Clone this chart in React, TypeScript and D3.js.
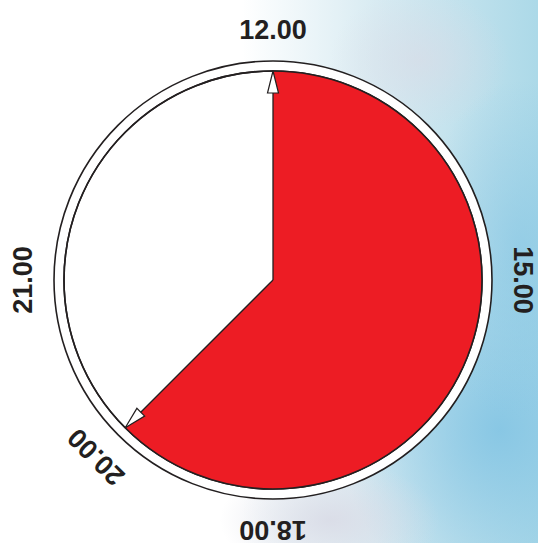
import React, { useEffect, useRef } from 'react';
import * as d3 from 'd3';

// clock positions (hours on a 12-hour dial starting at 12.00)
const sliceStart = 12;
const sliceEnd = 19.5;
const labelHours = [12, 15, 18, 19.5, 21];
const labelTexts = ['12.00', '15.00', '18.00', '20.00', '21.00'];

const App = () => {
  const svgRef = useRef<SVGSVGElement>(null);

  useEffect(() => {
    const width = 538;
    const height = 543;
    const cx = 273;
    const cy = 280;
    const outerR = 219;
    const innerR = 209;
    const labelR = 251;

    const svg = d3.select(svgRef.current);
    svg.selectAll('*').remove();
    svg.attr('width', width).attr('height', height);

    // Background wash on the right side
    const defs = svg.append('defs');
    const lin = defs.append('linearGradient').attr('id', 'bg').attr('x1', 0).attr('x2', 1).attr('y1', 0).attr('y2', 0);
    lin.append('stop').attr('offset', '0.45').attr('stop-color', '#ffffff');
    lin.append('stop').attr('offset', '0.7').attr('stop-color', '#d8ebf2');
    lin.append('stop').attr('offset', '1').attr('stop-color', '#acd9e8');
    const blob = defs.append('radialGradient').attr('id', 'blob');
    blob.append('stop').attr('offset', '0').attr('stop-color', '#86c6e4').attr('stop-opacity', 0.95);
    blob.append('stop').attr('offset', '1').attr('stop-color', '#86c6e4').attr('stop-opacity', 0);
    const blob2 = defs.append('radialGradient').attr('id', 'blob2');
    blob2.append('stop').attr('offset', '0').attr('stop-color', '#d9dbe6').attr('stop-opacity', 0.9);
    blob2.append('stop').attr('offset', '1').attr('stop-color', '#d9dbe6').attr('stop-opacity', 0);

    svg.append('rect').attr('width', width).attr('height', height).attr('fill', 'url(#bg)');
    svg.append('ellipse').attr('cx', 500).attr('cy', 430).attr('rx', 160).attr('ry', 180).attr('fill', 'url(#blob)');
    svg.append('ellipse').attr('cx', 520).attr('cy', 250).attr('rx', 100).attr('ry', 170).attr('fill', 'url(#blob)').attr('opacity', 0.7);
    svg.append('ellipse').attr('cx', 330).attr('cy', 520).attr('rx', 110).attr('ry', 60).attr('fill', 'url(#blob2)');
    svg.append('ellipse').attr('cx', 420).attr('cy', 60).attr('rx', 90).attr('ry', 70).attr('fill', 'url(#blob2)').attr('opacity', 0.7);

    const g = svg.append('g').attr('transform', `translate(${cx},${cy})`);

    const angle = d3.scaleLinear().domain([12, 24]).range([0, 2 * Math.PI]);

    // Outer ring
    g.append('circle').attr('r', outerR).attr('fill', '#ffffff').attr('stroke', '#231f20').attr('stroke-width', 1.6);
    g.append('circle').attr('r', innerR).attr('fill', '#ffffff').attr('stroke', '#231f20').attr('stroke-width', 1.6);

    // Red slice
    const arc = d3.arc<any>().innerRadius(0).outerRadius(innerR);
    g.append('path')
      .attr('d', arc({ startAngle: angle(sliceStart), endAngle: angle(sliceEnd) }))
      .attr('fill', '#ed1c24')
      .attr('stroke', 'none');

    // Radial edges
    [sliceStart, sliceEnd].forEach(h => {
      const a = angle(h);
      g.append('line')
        .attr('x1', 0).attr('y1', 0)
        .attr('x2', innerR * Math.sin(a)).attr('y2', -innerR * Math.cos(a))
        .attr('stroke', '#231f20').attr('stroke-width', 1.3);
    });
    g.append('circle').attr('r', innerR).attr('fill', 'none').attr('stroke', '#231f20').attr('stroke-width', 1.6);

    // Arrow heads at the ends of the slice
    const arrowLen = 22;
    const arrowW = 11;
    [sliceStart, sliceEnd].forEach(h => {
      const deg = (angle(h) * 180) / Math.PI;
      g.append('path')
        .attr('transform', `rotate(${deg})`)
        .attr('d', `M0,${-innerR} L${arrowW / 2},${-innerR + arrowLen} L${-arrowW / 2},${-innerR + arrowLen} Z`)
        .attr('fill', '#ffffff')
        .attr('stroke', '#231f20')
        .attr('stroke-width', 1.2)
        .attr('stroke-linejoin', 'miter');
    });

    // Hour labels around the dial
    g.selectAll('.label')
      .data(labelHours)
      .enter()
      .append('text')
      .attr('class', 'label')
      .attr('transform', d => `rotate(${(angle(d) * 180) / Math.PI}) translate(0,${-labelR})`)
      .attr('text-anchor', 'middle')
      .attr('dy', '0.36em')
      .style('font-family', '"Liberation Sans", Arial, sans-serif')
      .style('font-weight', 'bold')
      .style('font-size', '27px')
      .attr('fill', '#231f20')
      .text((d, i) => labelTexts[i]);
  }, []);

  return (
    <div style={{ position: 'absolute', left: 0, top: 0 }}>
      <svg ref={svgRef} style={{ display: 'block' }}></svg>
    </div>
  );
};

export default App;
